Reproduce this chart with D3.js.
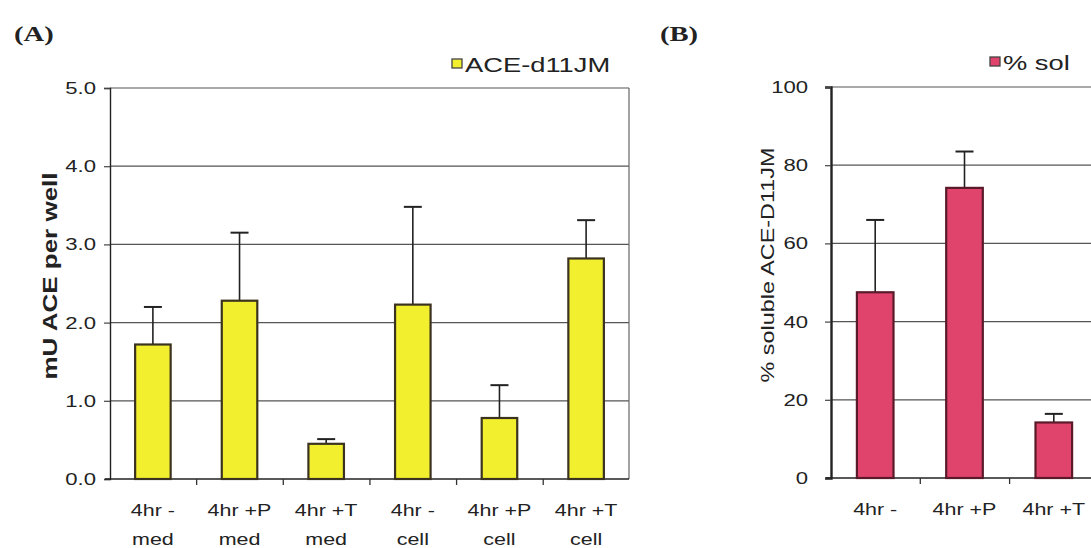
<!doctype html>
<html lang="en">
<head>
    <meta charset="UTF-8">
    <title>ACE-d11JM</title>
    <script src="https://d3js.org/d3.v7.min.js"></script>
    <style>
        body { margin: 0; background: #fff; }
        text { font-family: Arial, "Liberation Sans", sans-serif; fill: #222; }
        .panel { font-family: "Liberation Serif", "DejaVu Serif", serif; font-weight: bold; font-size: 22px; }
    </style>
</head>
<body>
<div id="chart"></div>
<script>

    // panel A data
    const catsA = [["4hr -", "med"], ["4hr +P", "med"], ["4hr +T", "med"], ["4hr -", "cell"], ["4hr +P", "cell"], ["4hr +T", "cell"]];
    const valsA = [1.72, 2.28, 0.45, 2.23, 0.78, 2.82];
    const errA = [2.20, 3.15, 0.51, 3.48, 1.20, 3.31];
    const ticksA = [0, 1, 2, 3, 4, 5];

    // panel B data
    const catsB = [["4hr -"], ["4hr +P"], ["4hr +T"]];
    const valsB = [47.5, 74.2, 14.2];
    const errB = [66.0, 83.5, 16.4];
    const ticksB = [0, 20, 40, 60, 80, 100];

    // the scanned figure is stretched sideways, text gets widened by this much
    const stretch = 1.3;

    let svg = d3.select("#chart").append("svg")
        .attr("width", 1091).attr("height", 548);

    function drawPanel(o) {
        let x = d3.scaleBand()
            .domain(d3.range(o.vals.length))
            .range([o.left, o.right])
            .paddingInner(0.59).paddingOuter(0.29);

        let y = d3.scaleLinear().domain([0, o.max]).range([o.bottom, o.top]);

        let g = svg.append("g");

        //grid lines
        g.selectAll(".grid").data(o.ticks.filter(t => t > 0))
            .enter().append("line")
            .attr("x1", o.left).attr("x2", o.right)
            .attr("y1", d => y(d)).attr("y2", d => y(d))
            .attr("stroke", "#555").attr("stroke-width", 1.2);

        // right border
        g.append("line")
            .attr("x1", o.right).attr("x2", o.right)
            .attr("y1", o.top).attr("y2", o.bottom)
            .attr("stroke", "#666").attr("stroke-width", 1.2);

        // y axis
        let yAxis = d3.axisLeft(y).tickValues(o.ticks).tickFormat(o.fmt).tickSize(6).tickPadding(o.tickPad);
        let ya = g.append("g").attr("transform", "translate(" + o.left + ",0)").call(yAxis);
        ya.select(".domain").attr("stroke", "#222").attr("stroke-width", o.axisW);
        ya.selectAll("line").attr("stroke", "#444").attr("stroke-width", 1.2);
        ya.selectAll("text").attr("font-size", 17).attr("fill", "#3a3a3a")
            .attr("font-family", "Arial, 'Liberation Sans', sans-serif");

        // x axis line with ticks between categories
        g.append("line")
            .attr("x1", o.left - 5).attr("x2", o.right)
            .attr("y1", o.bottom).attr("y2", o.bottom)
            .attr("stroke", "#222").attr("stroke-width", 1.6);
        g.selectAll(".xt").data(d3.range(1, o.vals.length))
            .enter().append("line")
            .attr("x1", d => o.left + d * x.step()).attr("x2", d => o.left + d * x.step())
            .attr("y1", o.bottom).attr("y2", o.bottom + 6)
            .attr("stroke", "#333").attr("stroke-width", 1.3);

        // error bars
        let eb = g.selectAll(".err").data(o.vals).enter().append("g");
        eb.append("line")
            .attr("x1", (d, i) => x(i) + x.bandwidth() / 2).attr("x2", (d, i) => x(i) + x.bandwidth() / 2)
            .attr("y1", d => y(d)).attr("y2", (d, i) => y(o.err[i]))
            .attr("stroke", "#222").attr("stroke-width", 1.6);
        eb.append("line")
            .attr("x1", (d, i) => x(i) + x.bandwidth() / 2 - 9).attr("x2", (d, i) => x(i) + x.bandwidth() / 2 + 9)
            .attr("y1", (d, i) => y(o.err[i])).attr("y2", (d, i) => y(o.err[i]))
            .attr("stroke", "#222").attr("stroke-width", 2);

        // bars
        g.selectAll(".bar").data(o.vals).enter().append("rect")
            .attr("x", (d, i) => x(i)).attr("width", x.bandwidth())
            .attr("y", d => y(d)).attr("height", d => o.bottom - y(d))
            .attr("fill", o.color).attr("stroke", o.stroke).attr("stroke-width", 2.2);

        // category labels, one text per line
        o.cats.forEach(function (lines, i) {
            lines.forEach(function (l, j) {
                g.append("text")
                    .attr("x", x(i) + x.bandwidth() / 2)
                    .attr("y", o.bottom + 37 + j * 29)
                    .attr("text-anchor", "middle").attr("font-size", 16.5).attr("fill", "#333")
                    .text(l);
            });
        });

        // y title
        g.append("text")
            .attr("transform", "translate(" + o.titleX + "," + o.titleY + ") rotate(-90)")
            .attr("text-anchor", "middle").attr("font-size", o.titleSize)
            .attr("font-weight", o.titleBold ? "bold" : "normal")
            .attr("fill", "#222")
            .text(o.title);

        // legend
        g.append("rect")
            .attr("x", o.legX).attr("y", o.legY - 13).attr("width", 10).attr("height", 9)
            .attr("fill", o.color).attr("stroke", "#444").attr("stroke-width", 1.3);
        g.append("text")
            .attr("x", o.legX + 13).attr("y", o.legY)
            .attr("font-size", 21).attr("fill", "#222")
            .text(o.legend);

        // panel letter
        svg.append("text").attr("class", "panel")
            .attr("x", o.panelX).attr("y", 41).text(o.panel);
    }

    drawPanel({
        vals: valsA, err: errA, cats: catsA, ticks: ticksA, max: 5,
        fmt: d3.format(".1f"), tickPad: 8,
        left: 110, right: 629, top: 88, bottom: 479,
        color: "#f2ef2e", stroke: "#3b3320", axisW: 1.4,
        title: "mU ACE per well", titleBold: true, titleSize: 20, titleX: 57, titleY: 276,
        legend: "ACE-d11JM", legX: 452, legY: 72,
        panel: "(A)", panelX: 14
    });

    drawPanel({
        vals: valsB, err: errB, cats: catsB, ticks: ticksB, max: 100,
        fmt: d3.format("d"), tickPad: 17,
        left: 831, right: 1098, top: 87, bottom: 478,
        color: "#e0436b", stroke: "#5a1a2a", axisW: 2.4,
        title: "% soluble  ACE-D11JM", titleBold: false, titleSize: 18, titleX: 774, titleY: 265,
        legend: "% sol", legX: 990, legY: 70,
        panel: "(B)", panelX: 660
    });

    // widen every text like the scan
    svg.selectAll("text").each(function () {
        let w = this.getComputedTextLength();
        d3.select(this).attr("textLength", w * stretch).attr("lengthAdjust", "spacingAndGlyphs");
    });

</script>
</body>
</html>
